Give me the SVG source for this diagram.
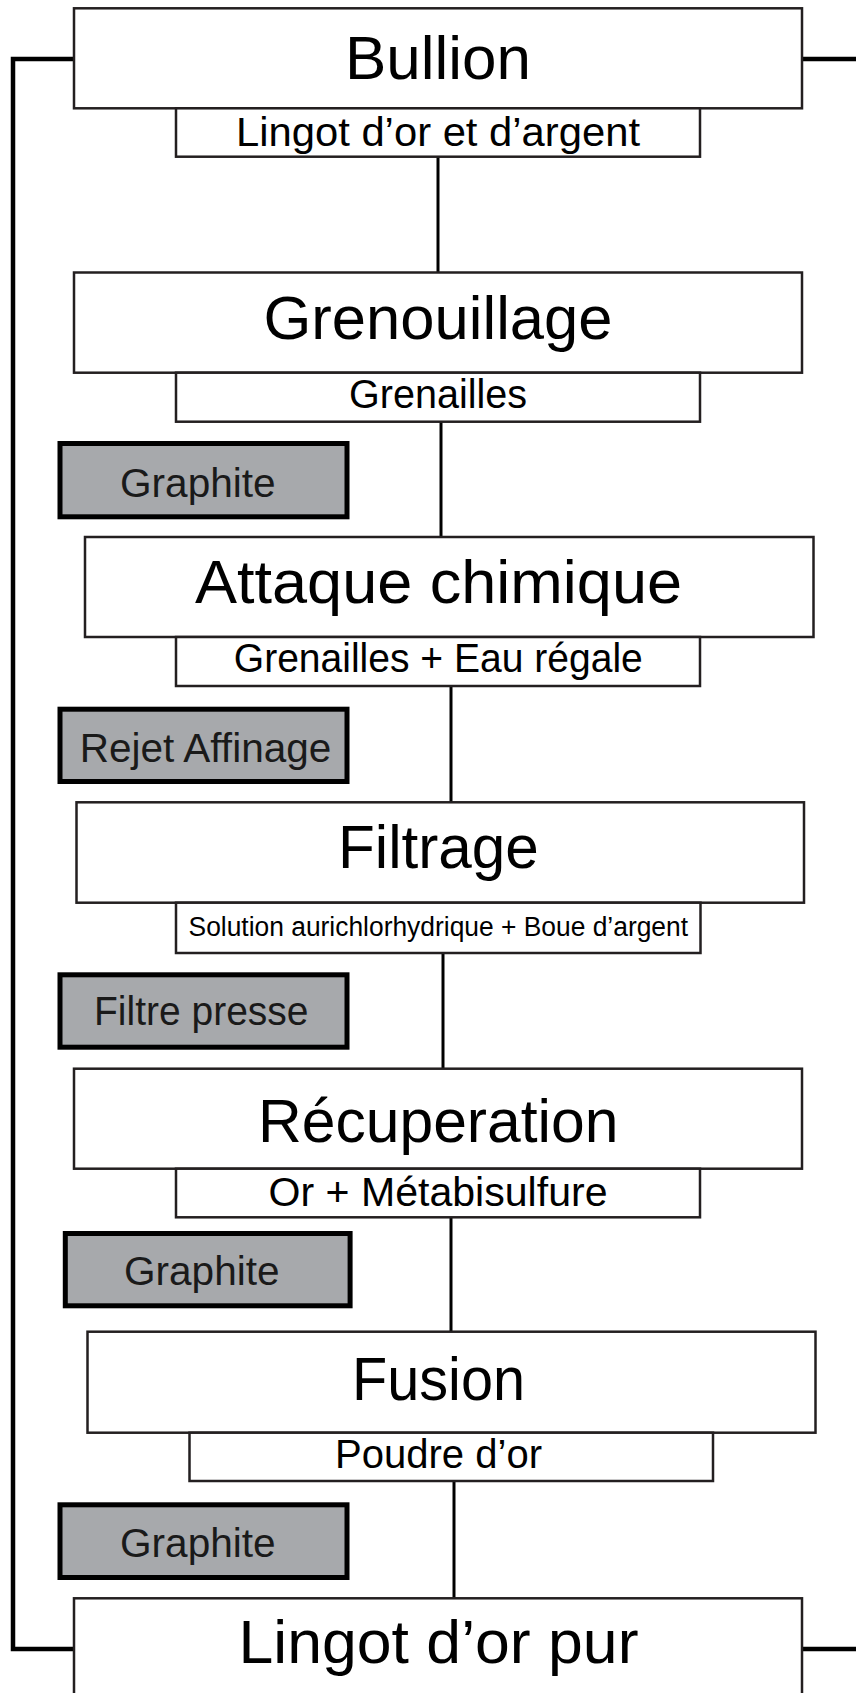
<svg xmlns="http://www.w3.org/2000/svg" width="856" height="1693" viewBox="0 0 856 1693">
  <style>
    .step { fill: #ffffff; stroke: #231f20; stroke-width: 2.5; }
    .out { fill: #ffffff; stroke: #231f20; stroke-width: 2.5; }
    .tool { fill: #a7a9ac; stroke: #000000; stroke-width: 5; }
    .link { fill: none; stroke: #000000; stroke-width: 3; }
    .loop { fill: none; stroke: #000000; stroke-width: 4.5; }
    text { font-family: "Liberation Sans", Arial, sans-serif; fill: #000000; }
    .title { font-size: 62px; text-anchor: middle; }
    .sub { font-size: 40px; text-anchor: middle; }
    .small { font-size: 27px; text-anchor: middle; }
    .tooltxt { font-size: 40px; fill: #1a1a1a; }
  </style>
  <rect width="856" height="1693" fill="#ffffff"/>

  <!-- connectors -->
  <g id="connectors">
    <path class="loop" d="M74,59 H13 V1649 H74"/>
    <path class="loop" d="M802,59 H856"/>
    <path class="loop" d="M802,1649 H856"/>
    <line class="link" x1="438" y1="157" x2="438" y2="272"/>
    <line class="link" x1="441" y1="422" x2="441" y2="537"/>
    <line class="link" x1="451" y1="686" x2="451" y2="802"/>
    <line class="link" x1="443" y1="953" x2="443" y2="1069"/>
    <line class="link" x1="451" y1="1217" x2="451" y2="1332"/>
    <line class="link" x1="454" y1="1481" x2="454" y2="1598"/>
  </g>

  <g id="bullion">
    <rect class="step" x="74" y="8.3" width="728" height="100"/>
    <text class="title" x="438" y="79" textLength="186" lengthAdjust="spacingAndGlyphs">Bullion</text>
    <rect class="out" x="176" y="108.3" width="524" height="48.4"/>
    <text class="sub" x="438" y="145.5" textLength="404" lengthAdjust="spacingAndGlyphs">Lingot d’or et d’argent</text>
  </g>

  <g id="grenouillage">
    <rect class="step" x="74" y="272.5" width="728" height="100.2"/>
    <text class="title" x="438" y="338.5" textLength="349" lengthAdjust="spacingAndGlyphs">Grenouillage</text>
    <rect class="out" x="176" y="372.7" width="524" height="49"/>
    <text class="sub" x="438" y="407.7" textLength="178" lengthAdjust="spacingAndGlyphs">Grenailles</text>
  </g>

  <g id="graphite-1">
    <rect class="tool" x="60" y="443.5" width="287" height="73.3"/>
    <text class="tooltxt" x="120" y="496.5" textLength="155.6" lengthAdjust="spacingAndGlyphs">Graphite</text>
  </g>

  <g id="attaque-chimique">
    <rect class="step" x="85" y="537" width="728.5" height="100"/>
    <text class="title" x="438.5" y="603.3" textLength="487" lengthAdjust="spacingAndGlyphs">Attaque chimique</text>
    <rect class="out" x="176" y="637" width="524" height="49"/>
    <text class="sub" x="438.3" y="671.7" textLength="409" lengthAdjust="spacingAndGlyphs">Grenailles + Eau régale</text>
  </g>

  <g id="rejet-affinage">
    <rect class="tool" x="60" y="709.2" width="287" height="72.3"/>
    <text class="tooltxt" x="79.7" y="761.7" textLength="251.6" lengthAdjust="spacingAndGlyphs">Rejet Affinage</text>
  </g>

  <g id="filtrage">
    <rect class="step" x="76.5" y="802.3" width="727.5" height="100.4"/>
    <text class="title" x="438.4" y="868.3" textLength="200.8" lengthAdjust="spacingAndGlyphs">Filtrage</text>
    <rect class="out" x="176" y="902.7" width="524.5" height="50.3"/>
    <text class="small" x="438.3" y="936" textLength="499.5" lengthAdjust="spacingAndGlyphs">Solution aurichlorhydrique + Boue d’argent</text>
  </g>

  <g id="filtre-presse">
    <rect class="tool" x="60" y="974.8" width="287" height="72.4"/>
    <text class="tooltxt" x="94" y="1025" textLength="214.5" lengthAdjust="spacingAndGlyphs">Filtre presse</text>
  </g>

  <g id="recuperation">
    <rect class="step" x="74" y="1068.7" width="728" height="100"/>
    <text class="title" x="438.2" y="1141.7" textLength="360.4" lengthAdjust="spacingAndGlyphs">Récuperation</text>
    <rect class="out" x="176" y="1168.7" width="524" height="48.6"/>
    <text class="sub" x="438" y="1206" textLength="339" lengthAdjust="spacingAndGlyphs">Or + Métabisulfure</text>
  </g>

  <g id="graphite-2">
    <rect class="tool" x="65.3" y="1233.5" width="284.8" height="72.3"/>
    <text class="tooltxt" x="124" y="1285" textLength="155.5" lengthAdjust="spacingAndGlyphs">Graphite</text>
  </g>

  <g id="fusion">
    <rect class="step" x="87.5" y="1331.7" width="728" height="101"/>
    <text class="title" x="438.5" y="1400" textLength="173" lengthAdjust="spacingAndGlyphs">Fusion</text>
    <rect class="out" x="189.5" y="1432.7" width="523.5" height="48.3"/>
    <text class="sub" x="438.5" y="1468.3" textLength="207" lengthAdjust="spacingAndGlyphs">Poudre d’or</text>
  </g>

  <g id="graphite-3">
    <rect class="tool" x="60" y="1504.8" width="287" height="72.7"/>
    <text class="tooltxt" x="120" y="1556.7" textLength="155.6" lengthAdjust="spacingAndGlyphs">Graphite</text>
  </g>

  <g id="lingot-or-pur">
    <rect class="step" x="74" y="1598.3" width="728" height="110"/>
    <text class="title" x="438.5" y="1663.3" textLength="400" lengthAdjust="spacingAndGlyphs">Lingot d’or pur</text>
  </g>
</svg>
